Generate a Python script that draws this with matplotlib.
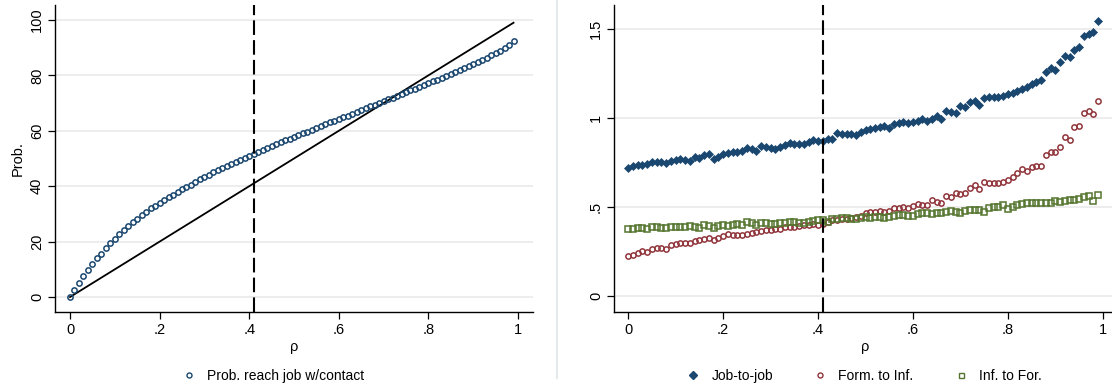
import matplotlib
matplotlib.use("Agg")
import matplotlib.pyplot as plt
from matplotlib.lines import Line2D

plt.rcParams['font.family'] = ['Liberation Sans', 'DejaVu Sans']

# rho grid shared by both panels
rho = [i / 100 for i in range(100)]

# Left panel: probability of reaching a job through a contact (%)
prob_reach = [
    0.0, 2.7, 5.2, 7.5, 9.9, 12.0, 14.0, 15.7, 17.8, 19.4,
    21.0, 22.7, 24.1, 25.6, 27.0, 28.3, 29.7, 30.8, 32.0, 32.9,
    34.0, 35.0, 36.1, 37.0, 37.9, 38.9, 39.8, 40.6, 41.6, 42.6,
    43.4, 44.2, 45.0, 45.8, 46.5, 47.3, 48.0, 48.8, 49.5, 50.3,
    51.0, 51.7, 52.5, 53.2, 53.9, 54.6, 55.3, 55.9, 56.5, 57.2,
    57.8, 58.5, 59.1, 59.7, 60.4, 61.0, 61.7, 62.3, 63.0, 63.6,
    64.3, 64.9, 65.5, 66.2, 66.8, 67.5, 68.1, 68.8, 69.4, 70.1,
    70.7, 71.3, 72.0, 72.6, 73.3, 73.9, 74.6, 75.2, 75.9, 76.5,
    77.2, 77.8, 78.5, 79.1, 79.8, 80.5, 81.2, 81.9, 82.6, 83.3,
    84.0, 84.8, 85.6, 86.4, 87.2, 88.0, 88.9, 89.9, 91.1, 92.4,
]
diag_x = [0.0, 0.99]
diag_y = [0.0, 99.0]

# Right panel: transition rates
job_to_job = [
    0.721, 0.732, 0.734, 0.738, 0.743, 0.751, 0.754, 0.751, 0.745, 0.760,
    0.766, 0.768, 0.762, 0.757, 0.781, 0.773, 0.790, 0.796, 0.768, 0.783,
    0.796, 0.803, 0.807, 0.809, 0.814, 0.831, 0.824, 0.814, 0.844, 0.839,
    0.833, 0.828, 0.839, 0.846, 0.858, 0.856, 0.852, 0.856, 0.863, 0.876,
    0.869, 0.873, 0.882, 0.882, 0.914, 0.910, 0.912, 0.908, 0.903, 0.924,
    0.935, 0.940, 0.946, 0.947, 0.957, 0.944, 0.965, 0.970, 0.979, 0.970,
    0.979, 0.985, 0.992, 0.985, 0.996, 1.011, 0.996, 1.041, 1.034, 1.026,
    1.067, 1.060, 1.092, 1.097, 1.075, 1.110, 1.116, 1.120, 1.120, 1.125,
    1.135, 1.142, 1.153, 1.163, 1.176, 1.189, 1.200, 1.213, 1.260, 1.279,
    1.270, 1.316, 1.348, 1.345, 1.382, 1.401, 1.461, 1.472, 1.483, 1.547,
]
form_to_inf = [
    0.225, 0.232, 0.239, 0.254, 0.249, 0.262, 0.268, 0.271, 0.266, 0.285,
    0.292, 0.296, 0.296, 0.300, 0.311, 0.315, 0.320, 0.326, 0.315, 0.324,
    0.337, 0.346, 0.341, 0.344, 0.344, 0.348, 0.352, 0.359, 0.365, 0.371,
    0.371, 0.378, 0.378, 0.386, 0.386, 0.389, 0.395, 0.397, 0.399, 0.402,
    0.401, 0.402, 0.416, 0.427, 0.427, 0.433, 0.434, 0.439, 0.443, 0.450,
    0.466, 0.474, 0.474, 0.479, 0.474, 0.479, 0.493, 0.493, 0.498, 0.496,
    0.506, 0.517, 0.509, 0.511, 0.539, 0.530, 0.521, 0.562, 0.554, 0.577,
    0.573, 0.577, 0.605, 0.624, 0.599, 0.642, 0.637, 0.637, 0.637, 0.642,
    0.652, 0.670, 0.689, 0.712, 0.704, 0.723, 0.730, 0.732, 0.792, 0.811,
    0.807, 0.835, 0.891, 0.876, 0.947, 0.955, 1.030, 1.041, 1.022, 1.097,
]
inf_to_for = [
    0.378, 0.374, 0.380, 0.380, 0.374, 0.388, 0.388, 0.384, 0.380, 0.389,
    0.389, 0.389, 0.389, 0.393, 0.389, 0.380, 0.397, 0.393, 0.382, 0.393,
    0.397, 0.393, 0.397, 0.404, 0.399, 0.417, 0.408, 0.399, 0.412, 0.408,
    0.404, 0.404, 0.412, 0.408, 0.417, 0.417, 0.412, 0.412, 0.416, 0.421,
    0.427, 0.427, 0.417, 0.434, 0.434, 0.436, 0.436, 0.431, 0.432, 0.436,
    0.446, 0.440, 0.442, 0.445, 0.436, 0.445, 0.451, 0.455, 0.455, 0.449,
    0.451, 0.458, 0.464, 0.464, 0.460, 0.464, 0.468, 0.474, 0.479, 0.472,
    0.468, 0.479, 0.483, 0.483, 0.483, 0.474, 0.496, 0.498, 0.498, 0.511,
    0.491, 0.502, 0.511, 0.515, 0.521, 0.521, 0.521, 0.521, 0.524, 0.524,
    0.532, 0.530, 0.534, 0.539, 0.539, 0.545, 0.554, 0.562, 0.536, 0.567,
]

cutoff = 0.41

left_yticks = [0, 20, 40, 60, 80, 100]
right_yticks = [0, 0.5, 1, 1.5]
right_ytick_labels = ["0", ".5", "1", "1.5"]
xticks = [0, 0.2, 0.4, 0.6, 0.8, 1.0]
xtick_labels = ["0", ".2", ".4", ".6", ".8", "1"]

NAVY = "#1a476f"
MAROON = "#90353b"
GREEN = "#55752f"
GRID = "#eaeaea"

W, H = 1112, 389
fig = plt.figure(figsize=(W / 100, H / 100), dpi=100)
fig.patch.set_facecolor("white")


def style_axes(ax):
    for side in ("top", "right"):
        ax.spines[side].set_visible(False)
    for side in ("left", "bottom"):
        ax.spines[side].set_linewidth(1.0)
        ax.spines[side].set_color("black")
    ax.tick_params(axis="both", direction="out", length=5, width=0.9,
                   labelsize=10.5, colors="black", pad=3)
    ax.tick_params(axis="y", labelrotation=90)
    ax.yaxis.grid(True, color=GRID, linewidth=1.2)
    ax.set_axisbelow(True)
    ax.set_xticks(xticks)
    ax.set_xticklabels(xtick_labels)
    ax.set_xlabel("ρ", fontsize=10.5, labelpad=2)


# ---- left panel ----
axL = fig.add_axes([55 / W, 77 / H, 478 / W, 307 / H])
axL.set_xlim(-0.0335, 1.0335)
axL.set_ylim(-5.4, 105.4)
axL.set_yticks(left_yticks)
axL.set_yticklabels([str(v) for v in left_yticks])
style_axes(axL)
axL.set_ylabel("Prob.", fontsize=10.5, labelpad=4)
axL.plot(diag_x, diag_y, color="black", linewidth=1.3, zorder=2)
axL.plot(rho, prob_reach, linestyle="none", marker="o", markersize=3.8,
         markerfacecolor="none", markeredgecolor=NAVY, markeredgewidth=1.1,
         zorder=3)
axL.axvline(cutoff, color="black", linewidth=1.5, linestyle=(0, (7, 2.5)),
            zorder=4)
for lab in axL.get_yticklabels():
    lab.set_va("center")

hL = [Line2D([], [], linestyle="none", marker="o", markersize=3.6,
             markerfacecolor="none", markeredgecolor=NAVY,
             markeredgewidth=1.0)]
fig.legend(hL, ["Prob. reach job w/contact"], loc="center",
           bbox_to_anchor=(273 / W, 1 - 376 / H), frameon=False,
           fontsize=10, handlelength=1.0, handletextpad=0.8)

# ---- right panel ----
axR = fig.add_axes([614 / W, 77 / H, 503 / W, 307 / H])
axR.set_xlim(-0.0295, 1.0295)
axR.set_ylim(-0.09, 1.635)
axR.set_yticks(right_yticks)
axR.set_yticklabels(right_ytick_labels)
style_axes(axR)
axR.plot(rho, job_to_job, linestyle="none", marker="D", markersize=3.8,
         markerfacecolor=NAVY, markeredgecolor=NAVY, markeredgewidth=0.5,
         zorder=3)
axR.plot(rho, form_to_inf, linestyle="none", marker="o", markersize=3.8,
         markerfacecolor="none", markeredgecolor=MAROON, markeredgewidth=1.1,
         zorder=3)
axR.plot(rho, inf_to_for, linestyle="none", marker="s", markersize=3.8,
         markerfacecolor="none", markeredgecolor=GREEN, markeredgewidth=1.1,
         zorder=3)
axR.axvline(cutoff, color="black", linewidth=1.5, linestyle=(0, (7, 2.5)),
            zorder=4)
for lab in axR.get_yticklabels():
    lab.set_va("center")

hR = [
    Line2D([], [], linestyle="none", marker="D", markersize=3.6,
           markerfacecolor=NAVY, markeredgecolor=NAVY),
    Line2D([], [], linestyle="none", marker="o", markersize=3.6,
           markerfacecolor="none", markeredgecolor=MAROON,
           markeredgewidth=1.0),
    Line2D([], [], linestyle="none", marker="s", markersize=3.6,
           markerfacecolor="none", markeredgecolor=GREEN,
           markeredgewidth=1.0),
]
fig.legend(hR, ["Job-to-job", "Form. to Inf.", "Inf. to For."], loc="center",
           bbox_to_anchor=(864 / W, 1 - 376 / H), frameon=False, ncol=3,
           fontsize=10, handlelength=1.0, handletextpad=0.8,
           columnspacing=2.9)

# panel separator
fig.add_artist(Line2D([557 / W, 557 / W], [1 - 378 / H, 1.0],
                      transform=fig.transFigure, color="#e6e9ec",
                      linewidth=1.5))

fig.savefig("out.png", dpi=100, facecolor="white")
